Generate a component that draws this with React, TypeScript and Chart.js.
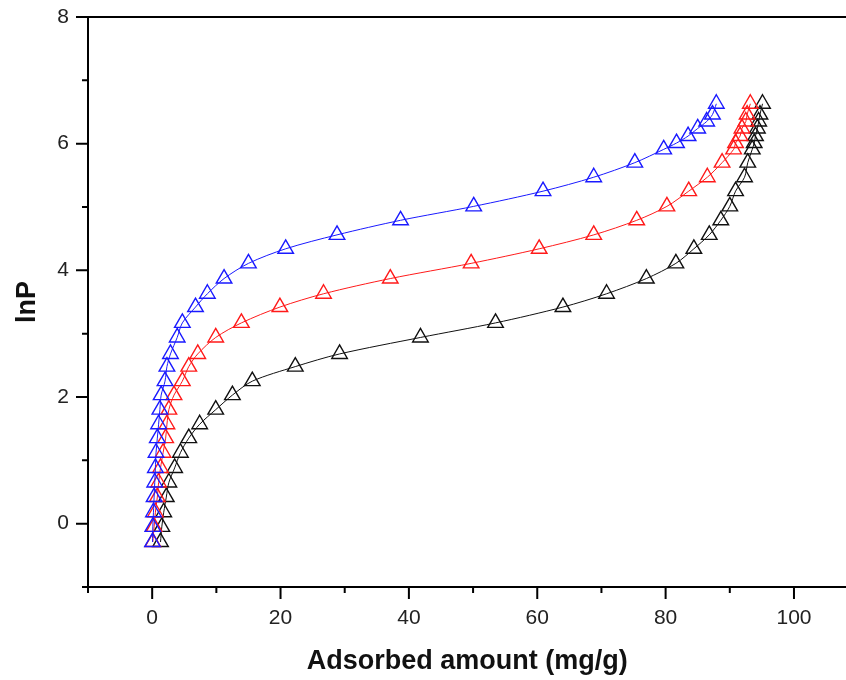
import React, { useEffect, useRef } from "react";
import { Chart, registerables } from "chart.js";

Chart.register(...registerables);

// lnP levels shared by the three isotherms (bottom to top)
const lnP = [-0.29, -0.05, 0.18, 0.42, 0.65, 0.88, 1.12, 1.35, 1.57, 1.8, 2.03, 2.25, 2.48, 2.68, 2.94, 3.17, 3.42, 3.63, 3.87, 4.11, 4.34, 4.56, 4.79, 5.01, 5.25, 5.47, 5.7, 5.91, 6.01, 6.12, 6.24, 6.35, 6.46, 6.63];

const blueX = [0.05, 0.1, 0.2, 0.3, 0.4, 0.5, 0.6, 0.8, 1.0, 1.2, 1.4, 2.0, 2.3, 2.85, 3.9, 4.7, 6.75, 8.6, 11.2, 15.0, 20.8, 28.8, 38.7, 50.1, 60.9, 68.8, 75.2, 79.7, 81.7, 83.5, 85.0, 86.4, 87.3, 87.9];
const redX = [0.1, 0.3, 0.5, 0.8, 1.0, 1.3, 1.7, 2.1, 2.3, 2.6, 3.4, 4.7, 5.7, 7.1, 9.9, 13.9, 19.9, 26.7, 37.1, 49.7, 60.3, 68.8, 75.5, 80.2, 83.6, 86.5, 88.8, 90.6, 90.9, 91.6, 91.9, 92.5, 92.7, 93.2];
const blackX = [1.3, 1.5, 1.8, 2.2, 2.6, 3.5, 4.4, 5.7, 7.4, 9.9, 12.5, 15.6, 22.3, 29.2, 41.8, 53.5, 64.0, 70.8, 77.0, 81.6, 84.4, 86.8, 88.6, 90.0, 90.9, 92.3, 92.8, 93.5, 93.8, 94.0, 94.3, 94.5, 94.7, 95.1];

const xTicks = [-10, 0, 10, 20, 30, 40, 50, 60, 70, 80, 90, 100];
const xMajor = [0, 20, 40, 60, 80, 100];
const yTicks = [-1, 0, 1, 2, 3, 4, 5, 6, 7, 8];
const yMajor = [0, 2, 4, 6, 8];

const xTitle = "Adsorbed amount (mg/g)";
const yTitle = "lnP";

const FONT = "'Liberation Sans', Arial, sans-serif";

const axesPlugin = {
  id: "originAxes",
  afterDraw(chart: any) {
    const { ctx, chartArea, scales } = chart;
    const { left, right, top, bottom } = chartArea;
    ctx.save();
    ctx.strokeStyle = "#000";
    ctx.lineWidth = 2;
    ctx.beginPath();
    ctx.moveTo(right + 20, top);
    ctx.lineTo(left, top);
    ctx.lineTo(left, bottom);
    ctx.lineTo(right + 20, bottom);
    ctx.stroke();
    ctx.beginPath();
    for (const v of xTicks) {
      const px = scales.x.getPixelForValue(v);
      const len = xMajor.includes(v) ? 12 : 6;
      ctx.moveTo(px, bottom);
      ctx.lineTo(px, bottom + len);
    }
    for (const v of yTicks) {
      const py = scales.y.getPixelForValue(v);
      const len = yMajor.includes(v) ? 12 : 6;
      ctx.moveTo(left, py);
      ctx.lineTo(left - len, py);
    }
    ctx.stroke();
    ctx.restore();
  },
};

function makeSeries(xs: number[], color: string) {
  return {
    data: xs.map((x, i) => ({ x, y: lnP[i] })),
    borderColor: color,
    borderWidth: 1,
    showLine: true,
    tension: 0.3,
    pointStyle: "triangle",
    pointRadius: 9,
    pointBorderWidth: 1.4,
    pointBorderColor: color,
    pointBackgroundColor: "rgba(0,0,0,0)",
    fill: false,
  };
}

function zeroPad(s: any) {
  s.paddingTop = 0;
  s.paddingBottom = 0;
  s.paddingLeft = 0;
  s.paddingRight = 0;
}

export default function App() {
  const ref = useRef<HTMLCanvasElement>(null);
  useEffect(() => {
    if (!ref.current) return;
    const chart = new Chart(ref.current, {
      type: "scatter",
      data: {
        datasets: [
          makeSeries(blueX, "#1a1aff"),
          makeSeries(redX, "#ff1a1a"),
          makeSeries(blackX, "#111111"),
        ] as any,
      },
      options: {
        animation: false,
        responsive: false,
        devicePixelRatio: 1,
        layout: { padding: { top: 17, right: 0, left: 0, bottom: 0 } },
        plugins: { legend: { display: false }, tooltip: { enabled: false } },
        scales: {
          x: {
            type: "linear",
            min: -10,
            max: 108.2,
            afterBuildTicks: (s: any) => {
              s.ticks = xTicks.map((v) => ({ value: v }));
            },
            afterFit: (s: any) => {
              s.height = 93;
              zeroPad(s);
            },
            grid: { display: false, drawTicks: false },
            border: { display: false },
            ticks: {
              padding: 19,
              color: "#222",
              font: { family: FONT, size: 21 },
              maxRotation: 0,
              autoSkip: false,
              callback: (v: any) => (xMajor.includes(Number(v)) ? String(v) : ""),
            },
            title: {
              display: true,
              text: xTitle,
              color: "#111",
              font: { family: FONT, size: 27, weight: "bold" },
              padding: { top: 0, bottom: 2 },
            },
          },
          y: {
            type: "linear",
            min: -1,
            max: 8,
            afterBuildTicks: (s: any) => {
              s.ticks = yTicks.map((v) => ({ value: v }));
            },
            afterFit: (s: any) => {
              s.width = 88;
              zeroPad(s);
            },
            grid: { display: false, drawTicks: false },
            border: { display: false },
            ticks: {
              padding: 19,
              color: "#222",
              font: { family: FONT, size: 21 },
              autoSkip: false,
              callback: (v: any) => (yMajor.includes(Number(v)) ? String(v) : ""),
            },
            title: {
              display: true,
              text: yTitle,
              color: "#111",
              font: { family: FONT, size: 27, weight: "bold" },
              padding: { top: 11, bottom: 0 },
            },
          },
        },
      } as any,
      plugins: [axesPlugin],
    });
    return () => chart.destroy();
  }, []);
  return (
    <div style={{ position: "absolute", left: 0, top: 0, width: 846, height: 680, overflow: "hidden", background: "#fff" }}>
      <canvas ref={ref} width={857} height={680} style={{ display: "block" }} />
    </div>
  );
}
